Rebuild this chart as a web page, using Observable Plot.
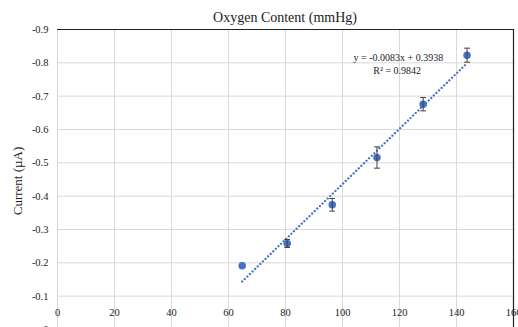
<!DOCTYPE html>
<html>
<head>
<meta charset="utf-8">
<script src="https://cdn.jsdelivr.net/npm/d3@7"></script>
<script src="https://cdn.jsdelivr.net/npm/@observablehq/plot@0.6"></script>
<style>
  html, body { margin: 0; padding: 0; background: #fff; overflow: hidden; }
  #chart { width: 518px; height: 327px; }
</style>
</head>
<body>
<div id="chart"></div>
<script>
const title = "Oxygen Content (mmHg)";
const yLabel = "Current (µA)";
const oxygen = [64.8, 80.6, 96.4, 112.1, 128.3, 143.7];
const current = [-0.191, -0.258, -0.374, -0.516, -0.676, -0.823];
const errors = [0.004, 0.012, 0.019, 0.032, 0.020, 0.021];
const xTicks = [0, 20, 40, 60, 80, 100, 120, 140, 160];
const yTicks = [-0.9, -0.8, -0.7, -0.6, -0.5, -0.4, -0.3, -0.2, -0.1, 0];
const slope = [-0.0083];
const intercept = [0.3938];
const equationText = ["y = -0.0083x + 0.3938", "R² = 0.9842"];

const points = oxygen.map((x, i) => ({x, y: current[i], e: errors[i]}));
const xExt = d3.extent(oxygen);
const trend = xExt.map(x => ({x, y: slope[0] * x + intercept[0]}));
const yMin = d3.min(yTicks), yMax = d3.max(yTicks);
const xMin = d3.min(xTicks), xMax = d3.max(xTicks);
const font = "'Liberation Serif', 'Times New Roman', serif";

const chart = Plot.plot({
  width: 518,
  height: 327,
  marginTop: 29,
  marginLeft: 57,
  marginRight: 5,
  marginBottom: 22,
  style: {fontFamily: font, fontSize: "10.5px", color: "#222", background: "transparent", overflow: "visible"},
  x: {domain: [xMin, xMax], range: [57, 513]},
  y: {domain: [yMin, yMax], range: [29, 329]},
  marks: [
    Plot.ruleX(xTicks, {x: d => d, y1: yMin, y2: yMax, stroke: "#d9d9d9", strokeWidth: 1}),
    Plot.ruleY(yTicks.filter(d => d !== yMin), {y: d => d, x1: xMin, x2: xMax, stroke: "#d9d9d9", strokeWidth: 1}),
    Plot.ruleY([yMin], {x1: xMin, x2: xMax + 0.4, stroke: "#222", strokeWidth: 1.2}),
    Plot.ruleX([xMax], {y1: yMin, y2: yMax, stroke: "#222", strokeWidth: 1.2}),
    Plot.axisY(yTicks, {tickSize: 0, tickPadding: 9, tickFormat: d => d === 0 ? "0" : d.toFixed(1), label: null, fontSize: 10.5, fill: "#222"}),
    Plot.axisX(xTicks, {anchor: "bottom", tickSize: 0, tickPadding: 3, tickFormat: d => String(d), label: null, fontSize: 10.5, fill: "#222"}),
    Plot.line(trend, {x: "x", y: "y", stroke: "#4472C4", strokeWidth: 2.3, strokeDasharray: "0.01 3.6", strokeLinecap: "round"}),
    Plot.dot(points, {x: "x", y: "y", r: 3, fill: "#4472C4", stroke: "#4472C4"}),
    Plot.link(points.filter(d => d.e > 0.006), {x1: "x", x2: "x", y1: d => d.y - d.e, y2: d => d.y + d.e, stroke: "#444", strokeWidth: 1, markerStart: "tick", markerEnd: "tick"}),
    Plot.text([equationText[0]], {x: 119.6, y: -0.814, text: d => d, fontSize: 10, fill: "#222"}),
    Plot.text([equationText[1]], {x: 119.2, y: -0.776, text: d => d, fontSize: 10, fill: "#222"})
  ]
});
document.getElementById("chart").append(chart);

const svg = d3.select(chart);
svg.append("text")
  .attr("x", 285).attr("y", 22)
  .attr("text-anchor", "middle")
  .style("font-family", font).style("font-size", "14px").attr("fill", "#222")
  .text(title);
svg.append("text")
  .attr("transform", "translate(22,181) rotate(-90)")
  .attr("text-anchor", "middle")
  .style("font-family", font).style("font-size", "13px").attr("fill", "#222")
  .text(yLabel);
</script>
</body>
</html>
